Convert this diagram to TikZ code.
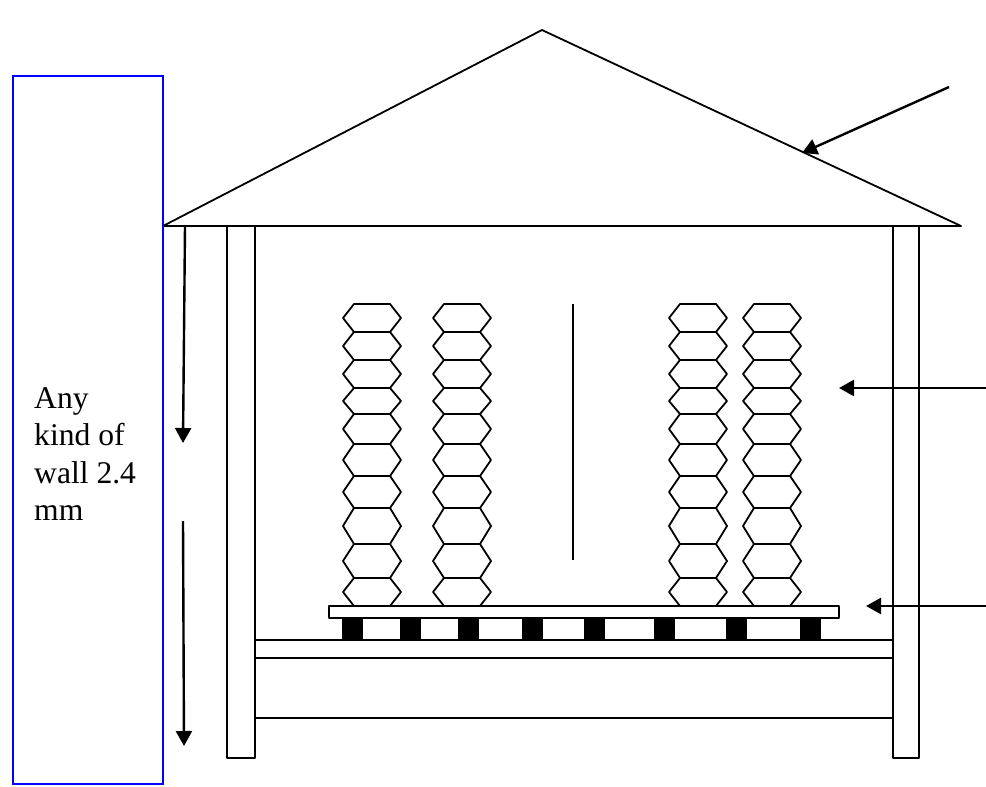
\documentclass[tikz,border=0pt]{standalone}
\usepackage{fontspec}
\setmainfont{Liberation Serif}
\usetikzlibrary{arrows.meta}
\tikzset{
    part/.style={line width=1.8pt, black, line join=round},
    pointer/.style={line width=2.4pt, black, -{Triangle[length=15pt,width=16pt]}},
    note/.style={anchor=north west, align=left, inner sep=0pt, font=\fontsize{31.6}{37.5}\selectfont}
}
\begin{document}
\begin{tikzpicture}[x=1pt,y=-1pt]
    \useasboundingbox (0,0) rectangle (986,787);

    % roof
    \draw[part] (163,226) -- (542,30) -- (961,226) -- cycle;

    % blue box on the left
    \draw[blue, line width=1.8pt] (13,76) rectangle (163,784);
    \node[note] (wallnote) at (34,387) {Any\\kind of\\wall 2.4\\mm};

    % posts
    \draw[part] (227,226) rectangle (255,758);
    \draw[part] (893,226) rectangle (919,758);

    % floor beams
    \draw[part] (255,640) -- (893,640);
    \draw[part] (255,658) -- (893,658);
    \draw[part] (255,718) -- (893,718);

    % sleepers and platform
    \foreach \x in {342,400,458,522,584,654,726,800} {
        \fill[black] (\x,618) rectangle (\x+21,640);
    }
    \draw[part] (329,606) rectangle (839,618);

    % stacks of hexagons
    \foreach \x in {343,433,669,743} {
        \foreach \top/\bot in {304/332,332/360,360/388,388/414,414/444,444/476,476/508,508/544,544/578,578/606} {
            \draw[part] (\x+11,\top) -- (\x+47,\top) -- (\x+58,\top/2+\bot/2) -- (\x+47,\bot)
                -- (\x+11,\bot) -- (\x,\top/2+\bot/2) -- cycle;
        }
    }

    % line between the stacks
    \draw[part] (573,304) -- (573,560);

    % arrows
    \draw[pointer] (949,87) -- (802,153);
    \draw[pointer] (986,388) -- (839,388);
    \draw[pointer] (986,606) -- (866,606);
    \draw[pointer] (185,226) -- (183,443);
    \draw[pointer] (183,521) -- (184,746);
\end{tikzpicture}
\end{document}
